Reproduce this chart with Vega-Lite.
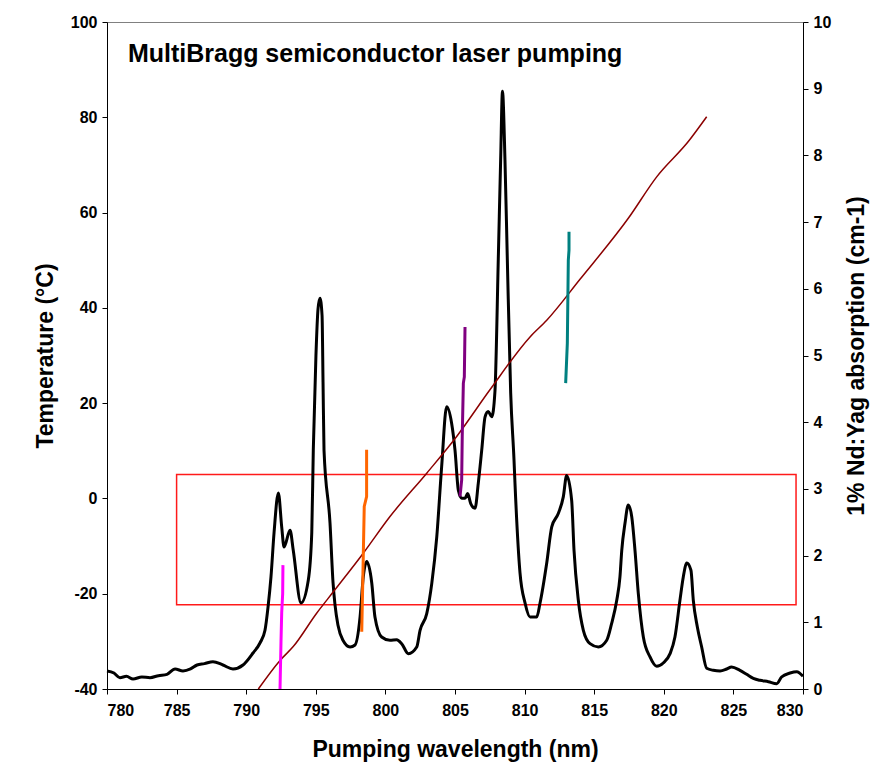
{
  "$schema": "https://vega.github.io/schema/vega-lite/v6.json",
  "width": 696,
  "height": 667,
  "autosize": {"type": "none"},
  "padding": {"left": 107, "top": 22, "right": 70, "bottom": 86},
  "background": "white",
  "config": {
    "font": "Liberation Sans",
    "view": {"stroke": "#808080", "strokeWidth": 1},
    "axis": {
      "grid": false,
      "domainColor": "black",
      "tickColor": "black",
      "labelColor": "black",
      "titleColor": "black",
      "labelFont": "Liberation Sans",
      "titleFont": "Liberation Sans",
      "labelFontWeight": "bold",
      "titleFontWeight": "bold",
      "labelFontSize": 16,
      "titleFontSize": 23,
      "tickSize": 5,
      "labelPadding": 5,
      "labelExpr": "'' + datum.value"
    }
  },
  "datasets": {
    "absorb": [
      {"nm": 780.0, "a": 0.27}, {"nm": 780.5, "a": 0.24}, {"nm": 780.93, "a": 0.17}, {"nm": 781.4, "a": 0.19}, {"nm": 781.87, "a": 0.15},
      {"nm": 782.5, "a": 0.18}, {"nm": 783.09, "a": 0.17}, {"nm": 783.7, "a": 0.2}, {"nm": 784.31, "a": 0.22}, {"nm": 784.89, "a": 0.3},
      {"nm": 785.46, "a": 0.27}, {"nm": 786.0, "a": 0.3}, {"nm": 786.47, "a": 0.36}, {"nm": 787.0, "a": 0.38}, {"nm": 787.61, "a": 0.41},
      {"nm": 788.33, "a": 0.36}, {"nm": 789.05, "a": 0.3}, {"nm": 789.77, "a": 0.36}, {"nm": 790.49, "a": 0.54}, {"nm": 790.99, "a": 0.69},
      {"nm": 791.35, "a": 0.88}, {"nm": 791.57, "a": 1.23}, {"nm": 791.78, "a": 1.68}, {"nm": 792.0, "a": 2.34}, {"nm": 792.31, "a": 2.94},
      {"nm": 792.55, "a": 2.43}, {"nm": 792.72, "a": 2.13}, {"nm": 793.15, "a": 2.38}, {"nm": 793.38, "a": 2.08}, {"nm": 793.94, "a": 1.29},
      {"nm": 794.46, "a": 1.63}, {"nm": 794.71, "a": 2.34}, {"nm": 794.82, "a": 3.58}, {"nm": 795.01, "a": 5.0}, {"nm": 795.16, "a": 5.7},
      {"nm": 795.3, "a": 5.86}, {"nm": 795.45, "a": 5.6}, {"nm": 795.52, "a": 4.6}, {"nm": 795.59, "a": 3.58}, {"nm": 796.02, "a": 2.49},
      {"nm": 796.24, "a": 1.59}, {"nm": 796.38, "a": 1.26}, {"nm": 796.59, "a": 0.96}, {"nm": 796.95, "a": 0.73}, {"nm": 797.46, "a": 0.63},
      {"nm": 797.82, "a": 0.66}, {"nm": 798.18, "a": 1.08}, {"nm": 798.41, "a": 1.68}, {"nm": 798.66, "a": 1.91}, {"nm": 799.02, "a": 1.59},
      {"nm": 799.25, "a": 1.08}, {"nm": 799.73, "a": 0.78}, {"nm": 800.33, "a": 0.73}, {"nm": 800.81, "a": 0.74}, {"nm": 801.17, "a": 0.68},
      {"nm": 801.65, "a": 0.53}, {"nm": 802.25, "a": 0.63}, {"nm": 802.49, "a": 0.88}, {"nm": 802.97, "a": 1.13}, {"nm": 803.33, "a": 1.58},
      {"nm": 803.69, "a": 2.28}, {"nm": 804.04, "a": 3.33}, {"nm": 804.4, "a": 4.23}, {"nm": 804.76, "a": 3.98}, {"nm": 805.0, "a": 3.58},
      {"nm": 805.24, "a": 2.98}, {"nm": 805.48, "a": 2.86}, {"nm": 805.72, "a": 2.86}, {"nm": 805.91, "a": 2.93}, {"nm": 806.13, "a": 2.78},
      {"nm": 806.44, "a": 2.71}, {"nm": 806.67, "a": 3.08}, {"nm": 806.92, "a": 3.58}, {"nm": 807.16, "a": 4.08}, {"nm": 807.39, "a": 4.16},
      {"nm": 807.64, "a": 4.08}, {"nm": 807.87, "a": 4.46}, {"nm": 808.11, "a": 6.45}, {"nm": 808.28, "a": 7.94}, {"nm": 808.41, "a": 8.96},
      {"nm": 808.59, "a": 7.93}, {"nm": 808.76, "a": 6.43}, {"nm": 809.0, "a": 4.44}, {"nm": 809.24, "a": 3.43}, {"nm": 809.31, "a": 3.08},
      {"nm": 809.67, "a": 1.74}, {"nm": 810.03, "a": 1.29}, {"nm": 810.39, "a": 1.08}, {"nm": 810.87, "a": 1.08}, {"nm": 811.11, "a": 1.29},
      {"nm": 811.59, "a": 1.89}, {"nm": 811.95, "a": 2.43}, {"nm": 812.42, "a": 2.63}, {"nm": 812.78, "a": 2.88}, {"nm": 813.02, "a": 3.2},
      {"nm": 813.38, "a": 2.83}, {"nm": 813.55, "a": 2.08}, {"nm": 813.86, "a": 1.33}, {"nm": 814.22, "a": 0.88}, {"nm": 814.7, "a": 0.68},
      {"nm": 815.3, "a": 0.63}, {"nm": 815.9, "a": 0.73}, {"nm": 816.25, "a": 0.98}, {"nm": 816.62, "a": 1.33}, {"nm": 816.85, "a": 1.68},
      {"nm": 816.98, "a": 2.08}, {"nm": 817.21, "a": 2.48}, {"nm": 817.45, "a": 2.76}, {"nm": 817.7, "a": 2.58}, {"nm": 817.93, "a": 2.08},
      {"nm": 818.17, "a": 1.43}, {"nm": 818.53, "a": 0.78}, {"nm": 819.01, "a": 0.48}, {"nm": 819.49, "a": 0.34}, {"nm": 819.96, "a": 0.39},
      {"nm": 820.45, "a": 0.53}, {"nm": 820.8, "a": 0.78}, {"nm": 821.16, "a": 1.33}, {"nm": 821.4, "a": 1.68}, {"nm": 821.65, "a": 1.89},
      {"nm": 821.95, "a": 1.78}, {"nm": 822.12, "a": 1.33}, {"nm": 822.41, "a": 0.93}, {"nm": 822.72, "a": 0.63}, {"nm": 823.08, "a": 0.31},
      {"nm": 823.56, "a": 0.28}, {"nm": 824.04, "a": 0.27}, {"nm": 824.52, "a": 0.3}, {"nm": 824.87, "a": 0.33}, {"nm": 825.47, "a": 0.28},
      {"nm": 825.95, "a": 0.22}, {"nm": 826.43, "a": 0.16}, {"nm": 826.91, "a": 0.13}, {"nm": 827.51, "a": 0.11}, {"nm": 828.11, "a": 0.08},
      {"nm": 828.46, "a": 0.18}, {"nm": 829.07, "a": 0.24}, {"nm": 829.55, "a": 0.26}, {"nm": 830.0, "a": 0.19}
    ],
    "templine": [
      {"nm": 790.87, "T": -40}, {"nm": 792.43, "T": -34.0}, {"nm": 793.38, "T": -31.1}, {"nm": 795.06, "T": -24.1},
      {"nm": 796.26, "T": -19.6}, {"nm": 798.41, "T": -11.5}, {"nm": 800.33, "T": -3.8}, {"nm": 802.97, "T": 5.3},
      {"nm": 805.12, "T": 13.0}, {"nm": 807.51, "T": 22.8}, {"nm": 810.39, "T": 33.9}, {"nm": 811.59, "T": 37.4},
      {"nm": 813.98, "T": 46.0}, {"nm": 817.45, "T": 58.8}, {"nm": 819.49, "T": 67.5}, {"nm": 821.76, "T": 74.9},
      {"nm": 823.08, "T": 80.1}
    ],
    "segments": [
      {"s": "a", "nm": 792.43, "T": -40}, {"s": "a", "nm": 792.5, "T": -30}, {"s": "a", "nm": 792.55, "T": -24}, {"s": "a", "nm": 792.62, "T": -20}, {"s": "a", "nm": 792.64, "T": -14},
      {"s": "b", "nm": 798.3, "T": -28}, {"s": "b", "nm": 798.41, "T": -12.2}, {"s": "b", "nm": 798.48, "T": -1.7}, {"s": "b", "nm": 798.65, "T": 0.4}, {"s": "b", "nm": 798.65, "T": 10.2},
      {"s": "c", "nm": 805.36, "T": 0.4}, {"s": "c", "nm": 805.48, "T": 3.9}, {"s": "c", "nm": 805.52, "T": 13.0}, {"s": "c", "nm": 805.6, "T": 24.2}, {"s": "c", "nm": 805.67, "T": 25.5}, {"s": "c", "nm": 805.72, "T": 36.0},
      {"s": "d", "nm": 812.95, "T": 24.2}, {"s": "d", "nm": 813.07, "T": 32.6}, {"s": "d", "nm": 813.14, "T": 50.0}, {"s": "d", "nm": 813.19, "T": 52.1}, {"s": "d", "nm": 813.19, "T": 56.0}
    ]
  },
  "layer": [
    {
      "data": {"values": [{"x1": 785, "x2": 829.5, "t1": 5, "t2": -22.3}]},
      "mark": {"type": "rect", "fill": null, "fillOpacity": 0, "stroke": "#ff1a1a", "strokeWidth": 1.5},
      "encoding": {
        "x": {"field": "x1", "type": "quantitative", "scale": {"domain": [780, 830], "nice": false, "zero": false},
              "axis": {"title": "Pumping wavelength (nm)", "values": [780, 785, 790, 795, 800, 805, 810, 815, 820, 825, 830], "labelPadding": 8, "titlePadding": 20}},
        "x2": {"field": "x2"},
        "y": {"field": "t1", "type": "quantitative", "scale": {"domain": [-40, 100], "nice": false, "zero": false},
              "axis": {"orient": "left", "title": "Temperature (°C)", "values": [-40, -20, 0, 20, 40, 60, 80, 100], "titlePadding": 13}},
        "y2": {"field": "t2"}
      }
    },
    {
      "data": {"name": "absorb"},
      "mark": {"type": "line", "color": "black", "strokeWidth": 3, "strokeJoin": "round", "interpolate": "monotone"},
      "encoding": {
        "x": {"field": "nm", "type": "quantitative"},
        "y": {"field": "a", "type": "quantitative", "scale": {"domain": [0, 10], "nice": false, "zero": false},
              "axis": {"orient": "right", "title": "1% Nd:Yag absorption (cm-1)", "titleAngle": 270, "values": [0, 1, 2, 3, 4, 5, 6, 7, 8, 9, 10], "titlePadding": 38}}
      }
    },
    {
      "data": {"name": "templine"},
      "mark": {"type": "line", "color": "#8b0000", "strokeWidth": 1.5, "interpolate": "monotone"},
      "encoding": {
        "x": {"field": "nm", "type": "quantitative"},
        "y": {"field": "T", "type": "quantitative", "scale": {"domain": [-40, 100], "nice": false, "zero": false}, "axis": null}
      }
    },
    {
      "data": {"name": "segments"},
      "mark": {"type": "line", "strokeWidth": 3},
      "encoding": {
        "x": {"field": "nm", "type": "quantitative"},
        "y": {"field": "T", "type": "quantitative", "scale": {"domain": [-40, 100], "nice": false, "zero": false}, "axis": null},
        "color": {"field": "s", "type": "nominal", "scale": {"domain": ["a", "b", "c", "d"], "range": ["#ff00ff", "#ff6600", "#800080", "#008080"]}, "legend": null},
        "order": {"field": "T", "type": "quantitative"}
      }
    },
    {
      "data": {"values": [{"nm": 781.5, "T": 93.3, "label": "MultiBragg semiconductor laser pumping"}]},
      "mark": {"type": "text", "align": "left", "baseline": "middle", "fontSize": 25, "fontWeight": "bold", "font": "Liberation Sans", "color": "black"},
      "encoding": {
        "x": {"field": "nm", "type": "quantitative"},
        "y": {"field": "T", "type": "quantitative", "scale": {"domain": [-40, 100], "nice": false, "zero": false}, "axis": null},
        "text": {"field": "label"}
      }
    }
  ],
  "resolve": {"scale": {"y": "independent", "color": "independent"}}
}
